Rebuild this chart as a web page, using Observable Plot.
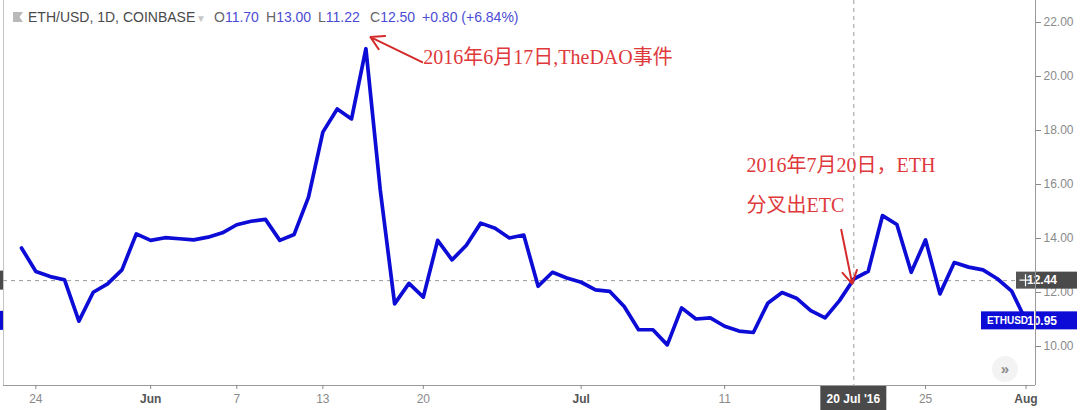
<!DOCTYPE html>
<html>
<head>
<meta charset="utf-8">
<script src="https://cdn.jsdelivr.net/npm/d3@7"></script>
<script src="https://cdn.jsdelivr.net/npm/@observablehq/plot@0.6"></script>
<style>
  html, body { margin: 0; padding: 0; background: #fff; }
  #wrap { position: relative; width: 1080px; height: 410px; overflow: hidden; background: #fff; }
  #hdr { position: absolute; left: 0; top: 0; height: 30px; width: 600px; font-family: "Liberation Sans", Arial, sans-serif; font-size: 14px; line-height: 14px; color: #4a4a4a; white-space: nowrap; }
  #hdr span { position: absolute; top: 10px; }
  #hdr .v { color: #4b4bd4; }
  #hdr .k { color: #666; }
</style>
</head>
<body>
<div id="wrap">
  <div id="chart"></div>
  <div id="hdr"></div>
</div>
<script>
// ---------------- data ----------------
const dates = [
  "2016-05-23","2016-05-24","2016-05-25","2016-05-26","2016-05-27","2016-05-28","2016-05-29","2016-05-30","2016-05-31",
  "2016-06-01","2016-06-02","2016-06-03","2016-06-04","2016-06-05","2016-06-06","2016-06-07","2016-06-08","2016-06-09","2016-06-10",
  "2016-06-11","2016-06-12","2016-06-13","2016-06-14","2016-06-15","2016-06-16","2016-06-17","2016-06-18","2016-06-19","2016-06-20",
  "2016-06-21","2016-06-22","2016-06-23","2016-06-24","2016-06-25","2016-06-26","2016-06-27","2016-06-28","2016-06-29","2016-06-30",
  "2016-07-01","2016-07-02","2016-07-03","2016-07-04","2016-07-05","2016-07-06","2016-07-07","2016-07-08","2016-07-09","2016-07-10",
  "2016-07-11","2016-07-12","2016-07-13","2016-07-14","2016-07-15","2016-07-16","2016-07-17","2016-07-18","2016-07-19","2016-07-20",
  "2016-07-21","2016-07-22","2016-07-23","2016-07-24","2016-07-25","2016-07-26","2016-07-27","2016-07-28","2016-07-29","2016-07-30",
  "2016-07-31","2016-08-01"
];
const closes = [
  13.65, 12.78, 12.59, 12.47, 10.94, 12.01, 12.32, 12.84, 14.17,
  13.93, 14.03, 13.99, 13.95, 14.05, 14.21, 14.51, 14.64, 14.71, 13.93,
  14.15, 15.53, 17.94, 18.80, 18.43, 21.03, 15.80, 11.58, 12.34, 11.83,
  13.93, 13.21, 13.75, 14.57, 14.38, 14.02, 14.13, 12.23, 12.75, 12.54,
  12.38, 12.10, 12.04, 11.48, 10.62, 10.62, 10.06, 11.43, 11.02, 11.06,
  10.75, 10.57, 10.52, 11.60, 12.00, 11.79, 11.33, 11.06, 11.70, 12.50,
  12.78, 14.85, 14.52, 12.75, 13.95, 11.95, 13.11, 12.94, 12.84, 12.51,
  12.05, 10.95
];
const yTicks = [10, 12, 14, 16, 18, 20, 22];
const dayTicks = ["2016-05-24", "2016-06-07", "2016-06-13", "2016-06-20", "2016-07-11", "2016-07-25"];
const monthTicks = ["2016-06-01", "2016-07-01", "2016-08-01"];

const crossDate = "2016-07-20";
const crossDateLabel = "20 Jul '16";
const crossPrice = 12.44;
const lastPrice = 10.95;
const symbolLabel = "ETHUSD";

const headerTitle = "ETH/USD, 1D, COINBASE";
const ohlcKeys = ["O", "H", "L", "C"];
const ohlcVals = ["11.70", "13.00", "11.22", "12.50"];
const changeText = "+0.80 (+6.84%)";

const noteTexts = [
  {date: "2016-06-20T00:00Z", value: 20.71, text: "2016年6月17日,TheDAO事件"},
  {date: "2016-07-12T12:30Z", value: 16.70, text: "2016年7月20日，ETH"},
  {date: "2016-07-12T12:30Z", value: 15.22, text: "分叉出ETC"}
];
const noteArrows = [
  {from: "2016-06-19T22:00Z", fromV: 20.53, to: "2016-06-16T07:40Z", toV: 21.46},
  {from: "2016-07-19T03:00Z", fromV: 14.32, to: "2016-07-19T21:20Z", toV: 12.32}
];

// ---------------- build ----------------
const P = s => new Date(s.length <= 10 ? s + "T00:00Z" : s);
const data = dates.map((d, i) => ({date: P(d), close: closes[i]}));
const DAY = 864e5;
const x0 = P(dates[0]);
const xDomain = [new Date(+x0 - 1.254 * DAY), new Date(+x0 + 70.66 * DAY)];
const yDomain = [8.556, 22.815];

const red = "#e0393b";
const arrowRed = "#d42a2a";
const blue = "#0c0cd6";
const dark = "#4a4a4a";

function chrome(index, scales, values, dims) {
  const {x, y} = scales;
  const g = d3.create("svg:g").attr("font-family", "'Liberation Sans', Arial, sans-serif");
  const xr = dims.width - dims.marginRight;
  const yb = dims.height - dims.marginBottom;
  // left slivers
  g.append("rect").attr("x", 0).attr("y", y(crossPrice) - 9.5).attr("width", 3).attr("height", 19).attr("fill", dark);
  g.append("rect").attr("x", 0).attr("y", y(lastPrice) - 9.5).attr("width", 3).attr("height", 19).attr("fill", blue);
  // scroll button
  g.append("circle").attr("cx", xr - 30).attr("cy", yb - 16).attr("r", 13).attr("fill", "#f3f3f3");
  g.append("text").attr("x", xr - 30).attr("y", yb - 16).attr("text-anchor", "middle").attr("dy", "0.35em")
    .attr("fill", "#8a8a8a").attr("font-size", 15).attr("font-weight", "bold").text("»");
  // crosshair price label
  const yc = y(crossPrice);
  g.append("rect").attr("x", xr - 19).attr("y", yc - 8.5).attr("width", 19).attr("height", 17).attr("fill", "#555");
  g.append("path").attr("d", `M${xr - 15.5},${yc}H${xr - 3.5}M${xr - 9.5},${yc - 6}V${yc + 6}`).attr("stroke", "#fff").attr("stroke-width", 1.2);
  g.append("rect").attr("x", xr).attr("y", yc - 8.5).attr("width", 42).attr("height", 17).attr("fill", dark);
  g.append("text").attr("x", xr + 7).attr("y", yc).attr("dy", "0.35em").attr("fill", "#fff").attr("font-size", 12).attr("font-weight", "bold").text(crossPrice.toFixed(2));
  // last price label
  const yl = y(lastPrice);
  g.append("rect").attr("x", xr - 54).attr("y", yl - 9).attr("width", 53).attr("height", 18).attr("fill", blue);
  g.append("text").attr("x", xr - 27.5).attr("y", yl).attr("dy", "0.35em").attr("text-anchor", "middle").attr("fill", "#fff").attr("font-size", 10).attr("font-weight", "bold").text(symbolLabel);
  g.append("rect").attr("x", xr + 1).attr("y", yl - 9).attr("width", 41).attr("height", 18).attr("fill", blue);
  g.append("text").attr("x", xr + 7).attr("y", yl).attr("dy", "0.35em").attr("fill", "#fff").attr("font-size", 12).attr("font-weight", "bold").text(lastPrice.toFixed(2));
  // axis line over the labels
  g.append("line").attr("x1", xr + 0.5).attr("x2", xr + 0.5).attr("y1", 0).attr("y2", yb).attr("stroke", "#9a9a9a");
  // crosshair date label
  const xc = x(P(crossDate));
  g.append("rect").attr("x", xc - 33).attr("y", yb + 1).attr("width", 66).attr("height", 25).attr("fill", dark);
  g.append("text").attr("x", xc).attr("y", yb + 14).attr("dy", "0.35em").attr("text-anchor", "middle").attr("fill", "#fff").attr("font-size", 12).attr("font-weight", "bold").text(crossDateLabel);
  return g.node();
}

const chart = Plot.plot({
  width: 1080,
  height: 410,
  marginLeft: 3,
  marginRight: 45,
  marginTop: 0,
  marginBottom: 25,
  style: {color: "#8a8a8a", background: "#fff", fontFamily: "'Liberation Sans', Arial, sans-serif"},
  x: {type: "utc", domain: xDomain, label: null},
  y: {domain: yDomain, label: null},
  marks: [
    Plot.ruleX([xDomain[0]], {stroke: "#c4c4c4"}),
    Plot.ruleY([yDomain[0]], {stroke: "#9a9a9a"}),
    Plot.ruleY([crossPrice], {stroke: "#9a9a9a", strokeDasharray: "4,4"}),
    Plot.ruleX([P(crossDate)], {stroke: "#9a9a9a", strokeDasharray: "4,4"}),
    Plot.axisY({anchor: "right", ticks: yTicks, tickFormat: d => d.toFixed(2), tickSize: 5, tickPadding: 3, fontSize: 12}),
    Plot.axisX({ticks: dayTicks.map(P), tickFormat: d3.utcFormat("%-d"), tickSize: 4, tickPadding: 5, fontSize: 12}),
    Plot.axisX({ticks: monthTicks.map(P), tickFormat: d3.utcFormat("%b"), tickSize: 4, tickPadding: 5, fontSize: 12, fontWeight: "bold", fill: "#555"}),
    Plot.line(data, {x: "date", y: "close", stroke: blue, strokeWidth: 3.7, strokeLinejoin: "round", strokeLinecap: "round"}),
    Plot.arrow(noteArrows, {x1: d => P(d.from), y1: "fromV", x2: d => P(d.to), y2: "toV", stroke: arrowRed, strokeWidth: 2, headLength: 11}),
    Plot.text(noteTexts, {x: d => P(d.date), y: "value", text: "text", textAnchor: "start", lineAnchor: "middle", fill: red, fontSize: 20, fontFamily: "'Liberation Serif', 'Noto Sans CJK SC', serif"}),
    chrome
  ]
});
document.getElementById("chart").appendChild(chart);

// ---------------- header ----------------
const hdr = d3.select("#hdr");
hdr.append("svg").attr("width", 30).attr("height", 30).style("position", "absolute").style("left", "0").style("top", "0")
  .append("polygon").attr("points", "13,12 23,12 19.5,17 23,22 13,22").attr("fill", "#b9b9b9");
hdr.append("span").style("left", "28px").text(headerTitle);
hdr.append("span").style("left", "196px").style("color", "#c8c8c8").style("font-size", "10px").style("top", "12px").text("▼");
let hx = 214;
ohlcKeys.forEach((k, i) => {
  const s = hdr.append("span").style("left", hx + "px");
  s.append("span").attr("class", "k").style("position", "static").text(k);
  s.append("span").attr("class", "v").style("position", "static").text(ohlcVals[i]);
  hx += 52;
});
hdr.append("span").attr("class", "v").style("left", hx + "px").text(changeText);
</script>
</body>
</html>
